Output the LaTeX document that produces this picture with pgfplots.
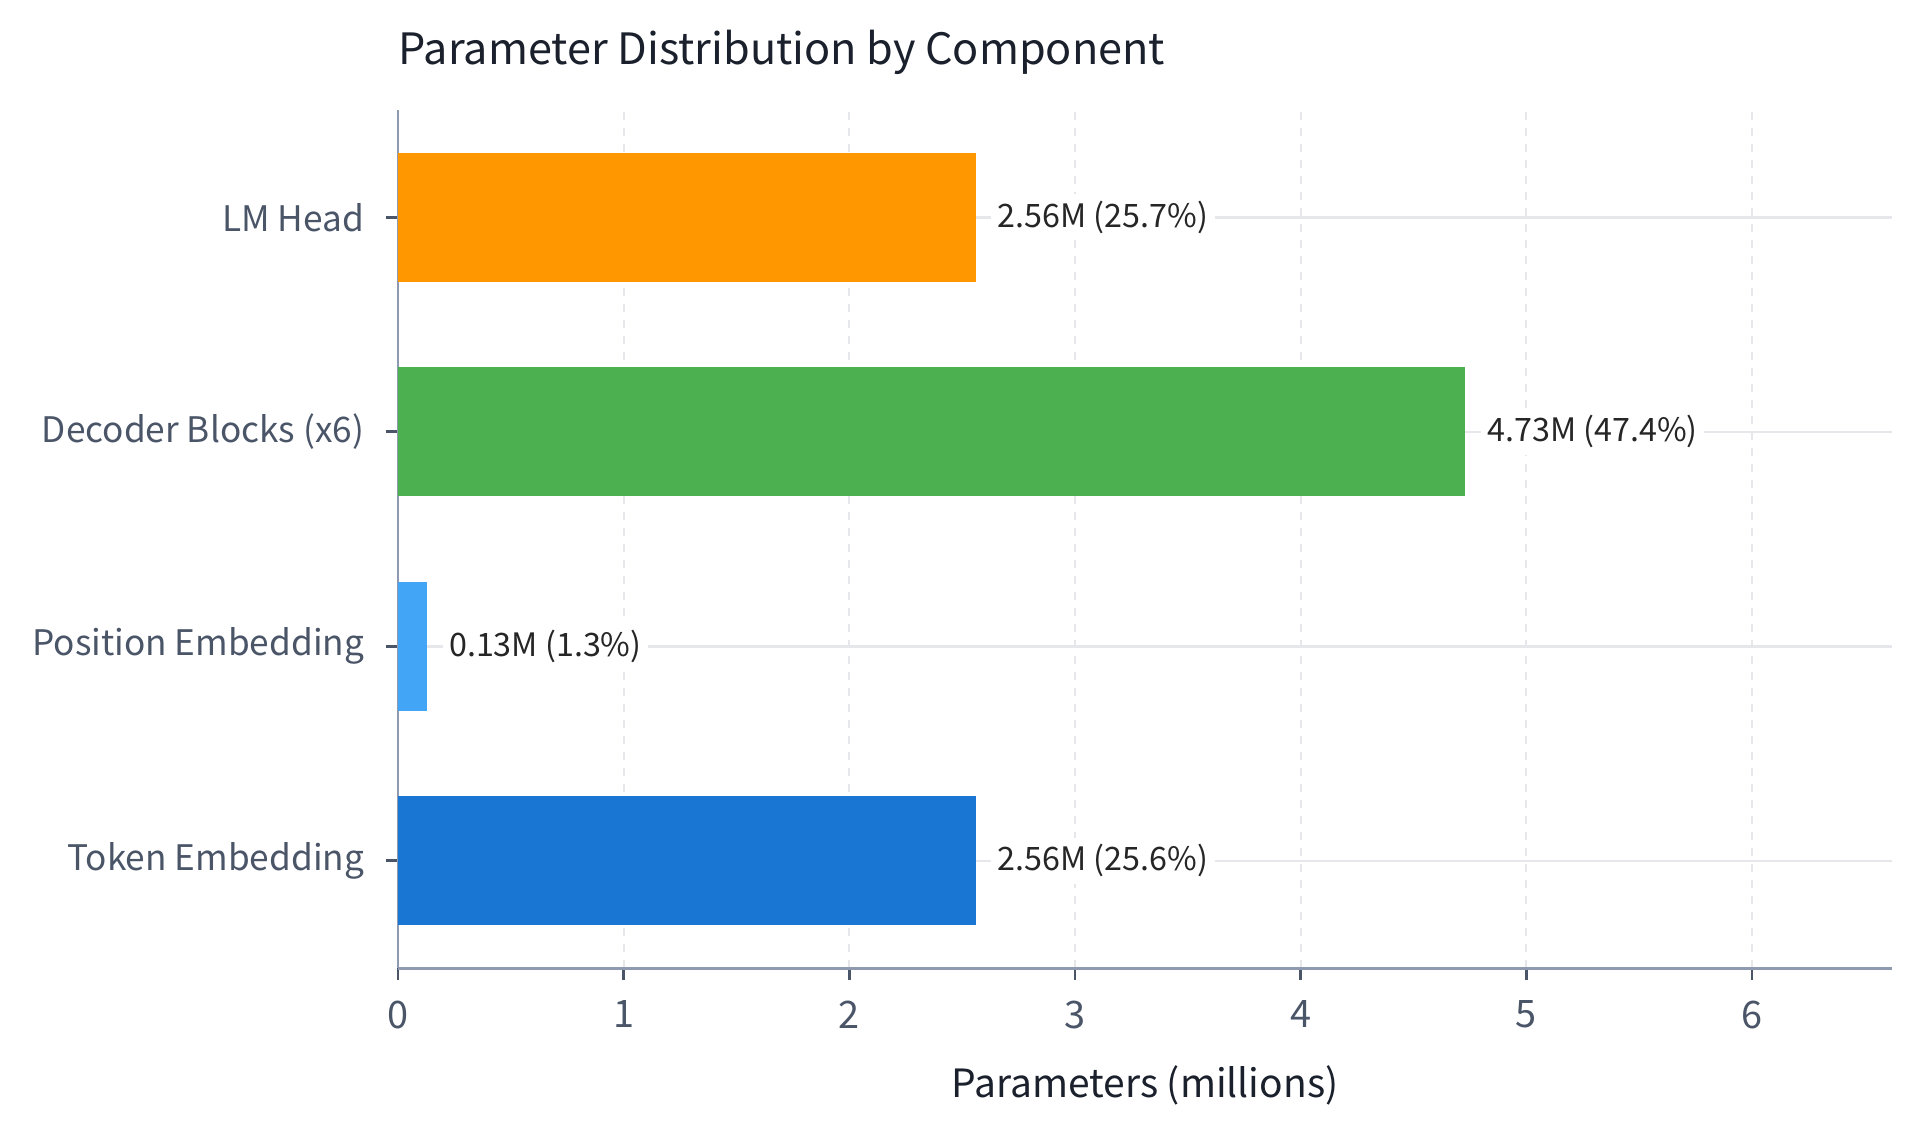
\documentclass[border=0pt]{standalone}
\usepackage{fontspec}
\setmainfont{Noto Sans CJK KR}
\usepackage{pgfplots}
\pgfplotsset{compat=1.18}

\definecolor{lmhead}{HTML}{FF9800}
\definecolor{decoder}{HTML}{4CAF50}
\definecolor{posemb}{HTML}{42A5F5}
\definecolor{tokemb}{HTML}{1976D2}
\definecolor{txtdark}{HTML}{1A202C}
\definecolor{txtgray}{HTML}{4A5568}
\definecolor{axisgray}{HTML}{8E9AAF}
\definecolor{gridgray}{HTML}{E5E7EB}

\begin{document}
\begin{tikzpicture}
\begin{axis}[
    at={(149.25pt,62.6pt)}, anchor=south west,
    width=560.25pt, height=321.75pt, scale only axis,
    xmin=0, xmax=6.62, ymin=-0.5, ymax=3.5,
    xbar, bar width=0.6, bar shift=0pt,
    axis lines=left,
    axis line style={-, axisgray, line width=1.1pt},
    xtick={0,1,2,3,4,5,6},
    ytick={0,1,2,3},
    yticklabels={Token Embedding, Position Embedding, Decoder Blocks (x6), LM Head},
    tick align=outside,
    major tick length=4.5pt,
    tick style={txtgray, line width=1pt},
    xmajorgrids, ymajorgrids,
    x grid style={gridgray, dashed, line width=0.75pt},
    y grid style={gridgray, line width=0.9pt},
    /pgf/number format/assume math mode=true,
    ticklabel style={text=txtgray},
    xticklabel style={font=\fontsize{14.2}{17}\selectfont, yshift=-4.3pt},
    yticklabel style={font=\fontsize{13.2}{16}\selectfont, xshift=-4.7pt},
    title={Parameter Distribution by Component},
    title style={at={(rel axis cs:0,1)}, anchor=base west, inner sep=0pt,
        yshift=10.9pt, font=\fontsize{16.2}{20}\selectfont, text=txtdark},
    xlabel={Parameters (millions)},
    xlabel style={at={(rel axis cs:0.5,0)}, anchor=base, inner sep=0pt,
        yshift=-48.4pt, font=\fontsize{14.6}{18}\selectfont, text=txtdark},
    nodes near coords,
    point meta=explicit symbolic,
    nodes near coords style={anchor=west, fill=white, inner sep=2.5pt,
        xshift=5.5pt, font=\fontsize{12.1}{15}\selectfont, text=black!85},
]
\addplot[fill=tokemb, draw=none] coordinates {(2.56,0) [2.56M (25.6\%)]};
\addplot[fill=posemb, draw=none] coordinates {(0.13,1) [0.13M (1.3\%)]};
\addplot[fill=decoder, draw=none] coordinates {(4.73,2) [4.73M (47.4\%)]};
\addplot[fill=lmhead, draw=none] coordinates {(2.56,3) [2.56M (25.7\%)]};
\end{axis}
\pgfresetboundingbox
\path (0,0) rectangle (720pt,425.625pt);
\end{tikzpicture}
\end{document}
